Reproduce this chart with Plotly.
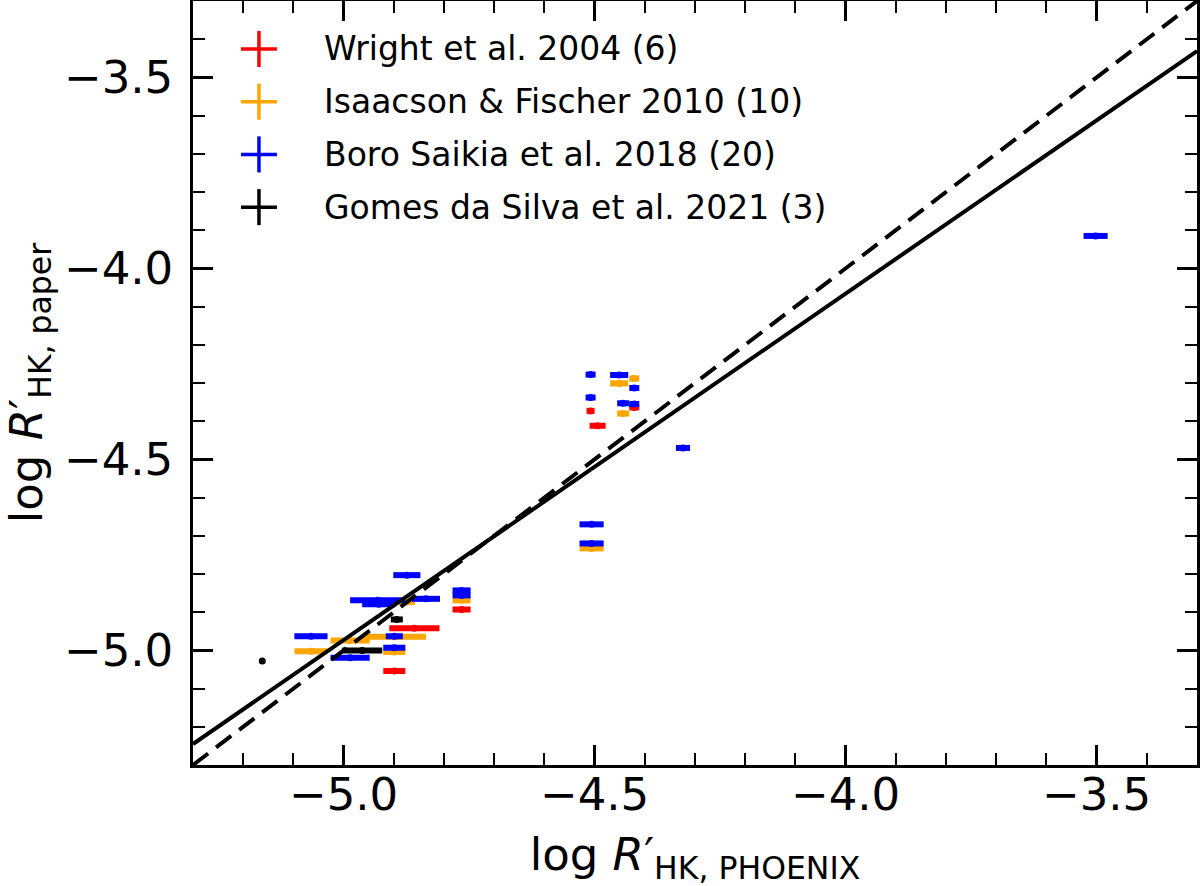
import plotly.graph_objects as go

# Wright et al. 2004
wright_x = [-4.421, -4.508, -4.494, -4.765, -4.859, -4.899]
wright_y = [-4.364, -4.373, -4.412, -4.893, -4.942, -5.054]
wright_xerr = [0.010, 0.008, 0.016, 0.018, 0.050, 0.022]

# Isaacson & Fischer 2010
isaacson_x = [-4.421, -4.451, -4.443, -4.506, -4.765, -4.874, -4.987, -4.897, -5.065, -4.899]
isaacson_y = [-4.288, -4.301, -4.380, -4.733, -4.869, -4.873, -4.974, -4.964, -5.002, -5.004]
isaacson_xerr = [0.010, 0.018, 0.012, 0.024, 0.018, 0.016, 0.039, 0.061, 0.033, 0.022]

# Boro Saikia et al. 2018
boro_x = [-4.508, -4.451, -4.421, -4.508, -4.443, -4.421, -4.324, -4.506, -4.506, -3.502,
          -4.874, -4.932, -4.836, -4.930, -4.765, -4.765, -5.065, -4.899, -4.899, -4.987]
boro_y = [-4.278, -4.279, -4.313, -4.338, -4.353, -4.355, -4.470, -4.670, -4.720, -3.915,
          -4.803, -4.869, -4.865, -4.879, -4.843, -4.856, -4.963, -4.963, -4.993, -5.019]
boro_xerr = [0.010, 0.018, 0.010, 0.010, 0.012, 0.010, 0.014, 0.024, 0.024, 0.024,
             0.027, 0.055, 0.028, 0.033, 0.018, 0.018, 0.033, 0.017, 0.022, 0.039]

# Gomes da Silva et al. 2021
gomes_x = [-4.894, -4.963, -5.162]
gomes_y = [-4.919, -5.000, -5.028]
gomes_xerr = [0.012, 0.040, 0.0]

# linear fit and axis range
fit_slope = 0.907
fit_intercept = -0.438
axis_range = [-5.3, -3.3]

series = [
    ("Wright et al. 2004 (6)", wright_x, wright_y, wright_xerr, "#ff0000"),
    ("Isaacson & Fischer 2010 (10)", isaacson_x, isaacson_y, isaacson_xerr, "#ffa500"),
    ("Boro Saikia et al. 2018 (20)", boro_x, boro_y, boro_xerr, "#0000ff"),
    ("Gomes da Silva et al. 2021 (3)", gomes_x, gomes_y, gomes_xerr, "#000000"),
]

FONT = "DejaVu Sans"
fig = go.Figure()

for name, xs, ys, xe, col in series:
    fig.add_trace(go.Scatter(
        x=xs, y=ys, mode="markers", name=name, showlegend=False,
        marker=dict(color=col, size=7),
        error_x=dict(type="data", array=xe, color=col, thickness=6, width=0),
    ))

# 1:1 line (dashed) and fit (solid)
fig.add_trace(go.Scatter(x=axis_range, y=axis_range, mode="lines", showlegend=False,
                         line=dict(color="black", width=4, dash="19px,10px")))
fit_y = [fit_slope * v + fit_intercept for v in axis_range]
fig.add_trace(go.Scatter(x=axis_range, y=fit_y, mode="lines", showlegend=False,
                         line=dict(color="black", width=4)))

# hand-made legend with errorbar crosses
leg_x = 0.0657
leg_y0 = 0.9372
leg_step = 0.069
for i, (name, xs, ys, xe, col) in enumerate(series):
    yy = leg_y0 - i * leg_step
    fig.add_shape(type="line", xref="paper", yref="paper",
                  x0=leg_x - 0.0179, x1=leg_x + 0.0179, y0=yy, y1=yy,
                  line=dict(color=col, width=3.5))
    fig.add_shape(type="line", xref="paper", yref="paper",
                  x0=leg_x, x1=leg_x, y0=yy - 0.0236, y1=yy + 0.0236,
                  line=dict(color=col, width=3.5))
    fig.add_annotation(x=0.1285, y=yy, xref="paper", yref="paper", text=name,
                       showarrow=False, xanchor="left", yanchor="middle",
                       font=dict(family=FONT, size=33, color="black"))

axis_style = dict(
    range=axis_range, showline=True, linecolor="black", linewidth=2.5, mirror="allticks",
    ticks="inside", ticklen=20, tickwidth=2.5, tickcolor="black", automargin=False,
    dtick=0.5, tick0=-5.0, tickformat=".1f", showgrid=False, zeroline=False,
    tickfont=dict(family=FONT, size=45, color="black"),
    minor=dict(ticks="inside", ticklen=12, tickwidth=2, tickcolor="black", dtick=0.1, showgrid=False),
)

fig.update_xaxes(**axis_style, ticklabelstandoff=-12,
                 title=dict(text="log <i>R</i>′<sub>HK, PHOENIX</sub>", standoff=22,
                            font=dict(family=FONT, size=45, color="black")))
fig.update_yaxes(**axis_style, ticklabelstandoff=8,
                 title=dict(text="log <i>R</i>′<sub>HK, paper</sub>", standoff=44,
                            font=dict(family=FONT, size=45, color="black")))

fig.update_layout(
    width=1200, height=886,
    margin=dict(l=193, r=3, t=1, b=121),
    paper_bgcolor="white", plot_bgcolor="white",
    font=dict(family=FONT, color="black"),
)

# page body margin off so the figure sits at the window corner
fig.write_html("out.html", config={"displayModeBar": False},
               post_script="document.body.style.margin='0px';")
